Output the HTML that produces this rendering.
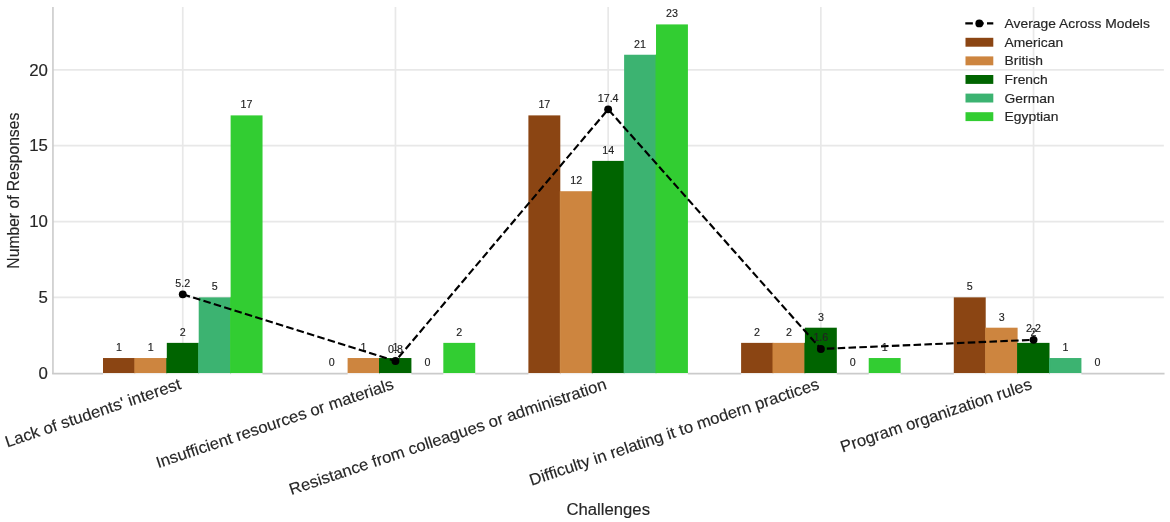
<!DOCTYPE html>
<html><head><meta charset="utf-8"><title>Challenges chart</title>
<style>html,body{margin:0;padding:0;background:#fff;} svg{display:block;}</style>
</head><body>
<svg width="1170" height="522" viewBox="0 0 1170 522" font-family="'Liberation Sans', Arial, sans-serif">
<style>text{stroke:#262626;stroke-width:0.15;stroke-linejoin:round;}</style>
<rect x="0" y="0" width="1170" height="522" fill="#ffffff"/>
<line x1="52.95" y1="297.38" x2="1163.84" y2="297.38" stroke="#e8e8e8" stroke-width="1.7"/>
<line x1="52.95" y1="221.55" x2="1163.84" y2="221.55" stroke="#e8e8e8" stroke-width="1.7"/>
<line x1="52.95" y1="145.72" x2="1163.84" y2="145.72" stroke="#e8e8e8" stroke-width="1.7"/>
<line x1="52.95" y1="69.90" x2="1163.84" y2="69.90" stroke="#e8e8e8" stroke-width="1.7"/>
<line x1="182.76" y1="7.00" x2="182.76" y2="373.20" stroke="#e8e8e8" stroke-width="1.7"/>
<line x1="395.46" y1="7.00" x2="395.46" y2="373.20" stroke="#e8e8e8" stroke-width="1.7"/>
<line x1="608.16" y1="7.00" x2="608.16" y2="373.20" stroke="#e8e8e8" stroke-width="1.7"/>
<line x1="820.86" y1="7.00" x2="820.86" y2="373.20" stroke="#e8e8e8" stroke-width="1.7"/>
<line x1="1033.56" y1="7.00" x2="1033.56" y2="373.20" stroke="#e8e8e8" stroke-width="1.7"/>
<line x1="52.95" y1="7.00" x2="52.95" y2="374.00" stroke="#cbcbcb" stroke-width="1.6"/>
<line x1="52.15" y1="373.60" x2="1164.54" y2="373.60" stroke="#cbcbcb" stroke-width="1.6"/>
<rect x="103.00" y="358.03" width="31.91" height="15.17" fill="#8B4513"/>
<rect x="103.00" y="373.20" width="31.91" height="2.0" fill="#fbfbfb"/>
<rect x="528.40" y="115.39" width="31.90" height="257.81" fill="#8B4513"/>
<rect x="528.40" y="373.20" width="31.90" height="2.0" fill="#fbfbfb"/>
<rect x="741.10" y="342.87" width="31.91" height="30.33" fill="#8B4513"/>
<rect x="741.10" y="373.20" width="31.91" height="2.0" fill="#fbfbfb"/>
<rect x="953.80" y="297.38" width="31.91" height="75.82" fill="#8B4513"/>
<rect x="953.80" y="373.20" width="31.91" height="2.0" fill="#fbfbfb"/>
<rect x="134.90" y="358.03" width="31.91" height="15.17" fill="#CD853F"/>
<rect x="134.90" y="373.20" width="31.91" height="2.0" fill="#fbfbfb"/>
<rect x="347.60" y="358.03" width="31.90" height="15.17" fill="#CD853F"/>
<rect x="347.60" y="373.20" width="31.90" height="2.0" fill="#fbfbfb"/>
<rect x="560.30" y="191.22" width="31.90" height="181.98" fill="#CD853F"/>
<rect x="560.30" y="373.20" width="31.90" height="2.0" fill="#fbfbfb"/>
<rect x="773.00" y="342.87" width="31.91" height="30.33" fill="#CD853F"/>
<rect x="773.00" y="373.20" width="31.91" height="2.0" fill="#fbfbfb"/>
<rect x="985.70" y="327.70" width="31.91" height="45.50" fill="#CD853F"/>
<rect x="985.70" y="373.20" width="31.91" height="2.0" fill="#fbfbfb"/>
<rect x="166.81" y="342.87" width="31.90" height="30.33" fill="#006400"/>
<rect x="166.81" y="373.20" width="31.90" height="2.0" fill="#fbfbfb"/>
<rect x="379.51" y="358.03" width="31.90" height="15.17" fill="#006400"/>
<rect x="379.51" y="373.20" width="31.90" height="2.0" fill="#fbfbfb"/>
<rect x="592.21" y="160.89" width="31.90" height="212.31" fill="#006400"/>
<rect x="592.21" y="373.20" width="31.90" height="2.0" fill="#fbfbfb"/>
<rect x="804.91" y="327.70" width="31.91" height="45.50" fill="#006400"/>
<rect x="804.91" y="373.20" width="31.91" height="2.0" fill="#fbfbfb"/>
<rect x="1017.61" y="342.87" width="31.90" height="30.33" fill="#006400"/>
<rect x="1017.61" y="373.20" width="31.90" height="2.0" fill="#fbfbfb"/>
<rect x="198.71" y="297.38" width="31.91" height="75.82" fill="#3CB371"/>
<rect x="198.71" y="373.20" width="31.91" height="2.0" fill="#fbfbfb"/>
<rect x="624.11" y="54.74" width="31.90" height="318.46" fill="#3CB371"/>
<rect x="624.11" y="373.20" width="31.90" height="2.0" fill="#fbfbfb"/>
<rect x="1049.51" y="358.03" width="31.91" height="15.17" fill="#3CB371"/>
<rect x="1049.51" y="373.20" width="31.91" height="2.0" fill="#fbfbfb"/>
<rect x="230.62" y="115.39" width="31.91" height="257.81" fill="#32CD32"/>
<rect x="230.62" y="373.20" width="31.91" height="2.0" fill="#fbfbfb"/>
<rect x="443.32" y="342.87" width="31.90" height="30.33" fill="#32CD32"/>
<rect x="443.32" y="373.20" width="31.90" height="2.0" fill="#fbfbfb"/>
<rect x="656.02" y="24.41" width="31.90" height="348.79" fill="#32CD32"/>
<rect x="656.02" y="373.20" width="31.90" height="2.0" fill="#fbfbfb"/>
<rect x="868.72" y="358.03" width="31.91" height="15.17" fill="#32CD32"/>
<rect x="868.72" y="373.20" width="31.91" height="2.0" fill="#fbfbfb"/>
<rect x="134.40" y="358.03" width="1.0" height="15.17" fill="#CD853F"/>
<rect x="166.31" y="358.03" width="1.0" height="15.17" fill="#006400"/>
<rect x="198.21" y="342.87" width="1.0" height="30.33" fill="#3CB371"/>
<rect x="230.12" y="297.38" width="1.0" height="75.82" fill="#32CD32"/>
<rect x="379.01" y="358.03" width="1.0" height="15.17" fill="#006400"/>
<rect x="559.80" y="191.22" width="1.0" height="181.98" fill="#CD853F"/>
<rect x="591.71" y="191.22" width="1.0" height="181.98" fill="#006400"/>
<rect x="623.61" y="160.89" width="1.0" height="212.31" fill="#3CB371"/>
<rect x="655.52" y="54.74" width="1.0" height="318.46" fill="#32CD32"/>
<rect x="772.50" y="342.87" width="1.0" height="30.33" fill="#CD853F"/>
<rect x="804.41" y="342.87" width="1.0" height="30.33" fill="#006400"/>
<rect x="985.20" y="327.70" width="1.0" height="45.50" fill="#CD853F"/>
<rect x="1017.11" y="342.87" width="1.0" height="30.33" fill="#006400"/>
<rect x="1049.01" y="358.03" width="1.0" height="15.17" fill="#3CB371"/>
<text transform="translate(118.95,350.93) scale(1.04,1)" text-anchor="middle" font-size="10.3" fill="#222222">1</text>
<text transform="translate(331.65,366.10) scale(1.04,1)" text-anchor="middle" font-size="10.3" fill="#222222">0</text>
<text transform="translate(544.35,108.29) scale(1.04,1)" text-anchor="middle" font-size="10.3" fill="#222222">17</text>
<text transform="translate(757.05,335.77) scale(1.04,1)" text-anchor="middle" font-size="10.3" fill="#222222">2</text>
<text transform="translate(969.75,290.27) scale(1.04,1)" text-anchor="middle" font-size="10.3" fill="#222222">5</text>
<text transform="translate(150.85,350.93) scale(1.04,1)" text-anchor="middle" font-size="10.3" fill="#222222">1</text>
<text transform="translate(363.55,350.93) scale(1.04,1)" text-anchor="middle" font-size="10.3" fill="#222222">1</text>
<text transform="translate(576.25,184.12) scale(1.04,1)" text-anchor="middle" font-size="10.3" fill="#222222">12</text>
<text transform="translate(788.95,335.77) scale(1.04,1)" text-anchor="middle" font-size="10.3" fill="#222222">2</text>
<text transform="translate(1001.65,320.60) scale(1.04,1)" text-anchor="middle" font-size="10.3" fill="#222222">3</text>
<text transform="translate(182.76,335.77) scale(1.04,1)" text-anchor="middle" font-size="10.3" fill="#222222">2</text>
<text transform="translate(395.46,350.93) scale(1.04,1)" text-anchor="middle" font-size="10.3" fill="#222222">1</text>
<text transform="translate(608.16,153.79) scale(1.04,1)" text-anchor="middle" font-size="10.3" fill="#222222">14</text>
<text transform="translate(820.86,320.60) scale(1.04,1)" text-anchor="middle" font-size="10.3" fill="#222222">3</text>
<text transform="translate(1033.56,335.77) scale(1.04,1)" text-anchor="middle" font-size="10.3" fill="#222222">2</text>
<text transform="translate(214.66,290.27) scale(1.04,1)" text-anchor="middle" font-size="10.3" fill="#222222">5</text>
<text transform="translate(427.36,366.10) scale(1.04,1)" text-anchor="middle" font-size="10.3" fill="#222222">0</text>
<text transform="translate(640.06,47.64) scale(1.04,1)" text-anchor="middle" font-size="10.3" fill="#222222">21</text>
<text transform="translate(852.76,366.10) scale(1.04,1)" text-anchor="middle" font-size="10.3" fill="#222222">0</text>
<text transform="translate(1065.47,350.93) scale(1.04,1)" text-anchor="middle" font-size="10.3" fill="#222222">1</text>
<text transform="translate(246.57,108.29) scale(1.04,1)" text-anchor="middle" font-size="10.3" fill="#222222">17</text>
<text transform="translate(459.27,335.77) scale(1.04,1)" text-anchor="middle" font-size="10.3" fill="#222222">2</text>
<text transform="translate(671.97,17.31) scale(1.04,1)" text-anchor="middle" font-size="10.3" fill="#222222">23</text>
<text transform="translate(884.67,350.93) scale(1.04,1)" text-anchor="middle" font-size="10.3" fill="#222222">1</text>
<text transform="translate(1097.37,366.10) scale(1.04,1)" text-anchor="middle" font-size="10.3" fill="#222222">0</text>
<polyline points="182.76,294.34 395.46,361.07 608.16,109.33 820.86,348.94 1033.56,339.84" fill="none" stroke="#000" stroke-width="2.15" stroke-dasharray="7.55 3.3"/>
<circle cx="182.76" cy="294.34" r="3.95" fill="#000"/>
<circle cx="395.46" cy="361.07" r="3.95" fill="#000"/>
<circle cx="608.16" cy="109.33" r="3.95" fill="#000"/>
<circle cx="820.86" cy="348.94" r="3.95" fill="#000"/>
<circle cx="1033.56" cy="339.84" r="3.95" fill="#000"/>
<text transform="translate(182.76,286.64) scale(1.04,1)" text-anchor="middle" font-size="10.3" fill="#222222">5.2</text>
<text transform="translate(395.46,353.37) scale(1.04,1)" text-anchor="middle" font-size="10.3" fill="#222222">0.8</text>
<text transform="translate(608.16,101.63) scale(1.04,1)" text-anchor="middle" font-size="10.3" fill="#222222">17.4</text>
<text transform="translate(820.86,341.24) scale(1.04,1)" text-anchor="middle" font-size="10.3" fill="#222222">1.6</text>
<text transform="translate(1033.56,332.14) scale(1.04,1)" text-anchor="middle" font-size="10.3" fill="#222222">2.2</text>
<text transform="translate(47.9,378.80) scale(1.06,1)" text-anchor="end" font-size="15.9" fill="#262626">0</text>
<text transform="translate(47.9,302.98) scale(1.06,1)" text-anchor="end" font-size="15.9" fill="#262626">5</text>
<text transform="translate(47.9,227.15) scale(1.06,1)" text-anchor="end" font-size="15.9" fill="#262626">10</text>
<text transform="translate(47.9,151.32) scale(1.06,1)" text-anchor="end" font-size="15.9" fill="#262626">15</text>
<text transform="translate(47.9,75.50) scale(1.06,1)" text-anchor="end" font-size="15.9" fill="#262626">20</text>
<text transform="translate(182.06,388.60) rotate(-18.6) scale(1.033,1)" text-anchor="end" font-size="16.2" fill="#262626">Lack of students&#39; interest</text>
<text transform="translate(394.76,388.60) rotate(-18.6) scale(1.033,1)" text-anchor="end" font-size="16.2" fill="#262626">Insufficient resources or materials</text>
<text transform="translate(607.46,388.60) rotate(-18.6) scale(1.033,1)" text-anchor="end" font-size="16.2" fill="#262626">Resistance from colleagues or administration</text>
<text transform="translate(820.16,388.60) rotate(-18.6) scale(1.033,1)" text-anchor="end" font-size="16.2" fill="#262626">Difficulty in relating it to modern practices</text>
<text transform="translate(1032.86,388.60) rotate(-18.6) scale(1.033,1)" text-anchor="end" font-size="16.2" fill="#262626">Program organization rules</text>
<text transform="translate(608.2,514.8) scale(1.033,1)" text-anchor="middle" font-size="16.2" fill="#262626">Challenges</text>
<text transform="translate(18.8,190.70) rotate(-90) scale(0.98,1)" text-anchor="middle" font-size="16" fill="#262626">Number of Responses</text>
<line x1="965.3" y1="23.4" x2="993.3" y2="23.4" stroke="#000" stroke-width="2.15" stroke-dasharray="7.55 3.3"/>
<circle cx="979.3" cy="23.4" r="3.95" fill="#000"/>
<text transform="translate(1004.6,28.10) scale(1.155,1)" font-size="12.0" fill="#262626">Average Across Models</text>
<rect x="965.5" y="37.80" width="27.8" height="8.9" fill="#8B4513"/>
<text transform="translate(1004.6,46.70) scale(1.155,1)" font-size="12.0" fill="#262626">American</text>
<rect x="965.5" y="56.40" width="27.8" height="8.9" fill="#CD853F"/>
<text transform="translate(1004.6,65.30) scale(1.155,1)" font-size="12.0" fill="#262626">British</text>
<rect x="965.5" y="75.00" width="27.8" height="8.9" fill="#006400"/>
<text transform="translate(1004.6,83.90) scale(1.155,1)" font-size="12.0" fill="#262626">French</text>
<rect x="965.5" y="93.60" width="27.8" height="8.9" fill="#3CB371"/>
<text transform="translate(1004.6,102.50) scale(1.155,1)" font-size="12.0" fill="#262626">German</text>
<rect x="965.5" y="112.20" width="27.8" height="8.9" fill="#32CD32"/>
<text transform="translate(1004.6,121.10) scale(1.155,1)" font-size="12.0" fill="#262626">Egyptian</text>
</svg>
</body></html>
